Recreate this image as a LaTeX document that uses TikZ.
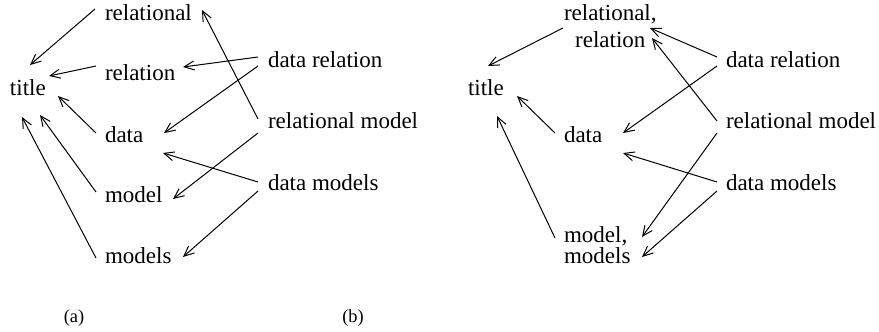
\documentclass[tikz,border=0pt]{standalone}
\usepackage{fontspec}
\setmainfont{Liberation Serif}
\usetikzlibrary{arrows.meta}
\begin{document}
\begin{tikzpicture}[x=0.5pt,y=-0.5pt,
  term/.style={anchor=base west,inner sep=0pt,outer sep=0pt,
    font=\fontsize{11.5}{13.5}\selectfont},
  caption/.style={anchor=base,inner sep=0pt,font=\fontsize{9.2}{11}\selectfont},
  arr/.style={line width=0.5pt,-{Straight Barb[length=5pt,width=4.5pt,line width=0.5pt]}}]
\useasboundingbox (0,0) rectangle (879,332);

% ---------- (a) one node per word group ----------
\node[term] (ta)   at (10,95)   {title};
\node[term] (rl)   at (105,20)  {relational};
\node[term] (rn)   at (105,80)  {relation};
\node[term] (da)   at (105,142) {data};
\node[term] (mo)   at (105,202) {model};
\node[term] (ms)   at (105,263) {models};
\node[term] (drel) at (268,68)  {data relation};
\node[term] (rmod) at (268,128) {relational model};
\node[term] (dmod) at (268,190) {data models};

\draw[arr] ([shift={(-10,-11)}]rl.base west) -- ([shift={(20,-30)}]ta.base west);
\draw[arr] ([shift={(-9,-14)}]rn.base west)  -- ([shift={(39,-19)}]ta.base west);
\draw[arr] ([shift={(-9,-9)}]da.base west)   -- ([shift={(48,1)}]ta.base west);
\draw[arr] ([shift={(-9,-10)}]mo.base west)  -- ([shift={(30,20)}]ta.base west);
\draw[arr] ([shift={(-9,-5)}]ms.base west)   -- ([shift={(12,22)}]ta.base west);
\draw[arr] ([shift={(-10,-11)}]drel.base west) -- ([shift={(78,-13)}]rn.base west);
\draw[arr] ([shift={(-10,-2)}]drel.base west)  -- ([shift={(59,-9)}]da.base west);
\draw[arr] ([shift={(-10,-9)}]rmod.base west)  -- ([shift={(97,-10)}]rl.base west);
\draw[arr] ([shift={(-10,5)}]rmod.base west)   -- ([shift={(68,-3)}]mo.base west);
\draw[arr] ([shift={(-10,-8)}]dmod.base west)  -- ([shift={(58,11)}]da.base west);
\draw[arr] ([shift={(-10,1)}]dmod.base west)   -- ([shift={(78,-6)}]ms.base west);

\node[caption] (capa) at (74,322) {(a)};

% ---------- (b) merged word groups ----------
\node[term] (tb)   at (468,95)  {title};
\node[term] (rr)   at (564,20)  {\begin{tabular}[t]{@{}c@{}}relational,\\relation\end{tabular}};
\node[term] (db)   at (564,142) {data};
\node[term] (mm)   at (564,242) {\begin{tabular}[t]{@{}l@{}}model,\\[-3pt]models\end{tabular}};
\node[term] (drb)  at (726,68)  {data relation};
\node[term] (rmb)  at (726,128) {relational model};
\node[term] (dmb)  at (726,190) {data models};

\draw[arr] ([shift={(-1,8)}]rr.base west)   -- ([shift={(20,-29)}]tb.base west);
\draw[arr] ([shift={(-9,-9)}]db.base west)  -- ([shift={(49,1)}]tb.base west);
\draw[arr] ([shift={(-9,-4)}]mm.base west)  -- ([shift={(29,21)}]tb.base west);
\draw[arr] ([shift={(-9,-11)}]drb.base west) -- ([shift={(86,8)}]rr.base west);
\draw[arr] ([shift={(-9,-2)}]drb.base west)  -- ([shift={(59,-9)}]db.base west);
\draw[arr] ([shift={(-9,-7)}]rmb.base west)  -- ([shift={(88,18)}]rr.base west);
\draw[arr] ([shift={(-9,5)}]rmb.base west)   -- ([shift={(78,-5)}]mm.base west);
\draw[arr] ([shift={(-9,-8)}]dmb.base west)  -- ([shift={(59,11)}]db.base west);
\draw[arr] ([shift={(-9,1)}]dmb.base west)   -- ([shift={(78,15)}]mm.base west);

\node[caption] (capb) at (353,322) {(b)};
\end{tikzpicture}
\end{document}
